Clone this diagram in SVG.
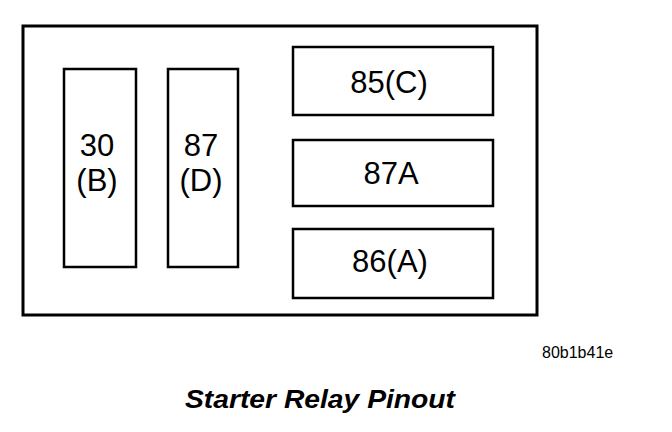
<svg xmlns="http://www.w3.org/2000/svg" width="672" height="432" viewBox="0 0 672 432">
<style>
.box{fill:#fff;stroke:#000;stroke-width:2.5}
.outer{fill:#fff;stroke:#000;stroke-width:3}
.lbl{font-family:"Liberation Sans",Arial,sans-serif;font-size:31px;fill:#000;text-anchor:middle}
</style>
<rect width="672" height="432" fill="#fff"/>
<g id="housing"><rect class="outer" x="23" y="26" width="514" height="289"/></g>
<g id="pin30"><rect class="box" x="64" y="69" width="72" height="198"/>
<text class="lbl" x="97" y="156">30</text><text class="lbl" x="97" y="191">(B)</text></g>
<g id="pin87"><rect class="box" x="168" y="69" width="70" height="198"/>
<text class="lbl" x="201" y="156">87</text><text class="lbl" x="201" y="191">(D)</text></g>
<g id="pin85"><rect class="box" x="293" y="47" width="200" height="68"/>
<text class="lbl" x="389" y="93">85(C)</text></g>
<g id="pin87A"><rect class="box" x="293" y="140" width="200" height="66"/>
<text class="lbl" x="391" y="184">87A</text></g>
<g id="pin86"><rect class="box" x="293" y="229" width="200" height="69"/>
<text class="lbl" x="390" y="272">86(A)</text></g>
<g id="connectors"></g>
<text x="542" y="358" font-family="Liberation Sans, Arial, sans-serif" font-size="16" fill="#000">80b1b41e</text>
<text x="185" y="408" font-family="Liberation Sans, Arial, sans-serif" font-size="26" font-weight="bold" font-style="italic" textLength="270" lengthAdjust="spacingAndGlyphs" fill="#000">Starter Relay Pinout</text>
</svg>
